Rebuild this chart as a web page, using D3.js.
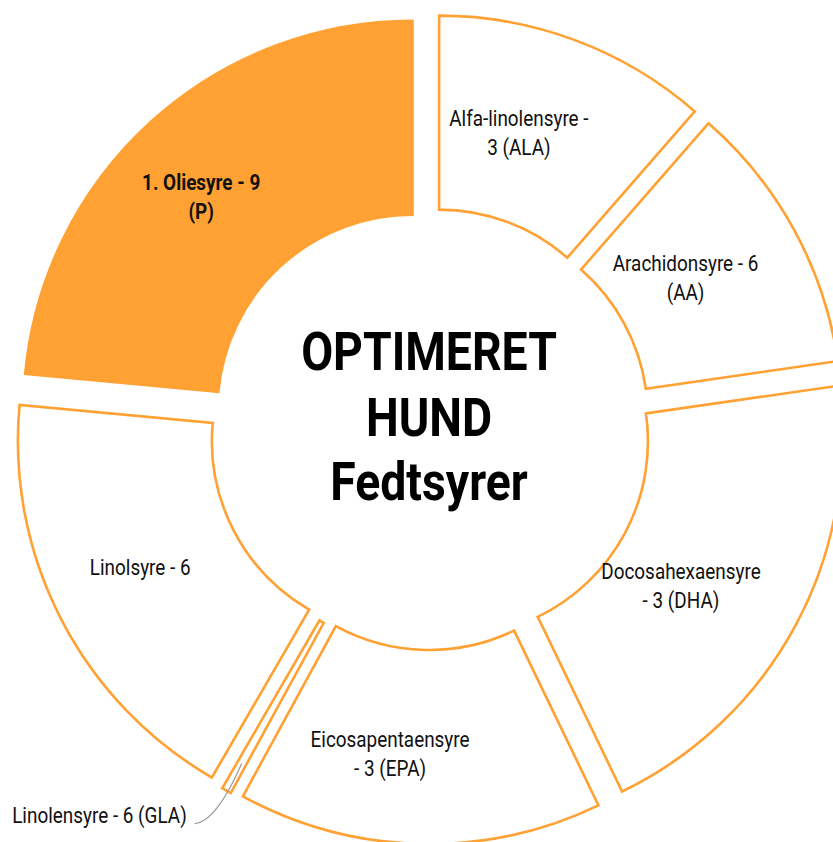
<!DOCTYPE html>
<html><head><meta charset="utf-8">
<script src="https://cdn.jsdelivr.net/npm/d3@7"></script>
<style>html,body{margin:0;padding:0;background:#fff;overflow:hidden} svg{display:block}</style>
</head><body>
<svg id="chart" width="833" height="842"></svg>
<script>
// ---- data ----
const categories = ["Alfa-linolensyre","Arachidonsyre","Docosahexaensyre","Eicosapentaensyre","Linolensyre","Linolsyre","Oliesyre"];
const values = [11.4, 11.3, 20.1, 15.1, 0.4, 18.1, 23.5];
const labelLines = [
  ["Alfa-linolensyre -","3 (ALA)"],
  ["Arachidonsyre - 6","(AA)"],
  ["Docosahexaensyre","- 3 (DHA)"],
  ["Eicosapentaensyre","- 3 (EPA)"],
  ["Linolensyre - 6 (GLA)"],
  ["Linolsyre - 6"],
  ["1. Oliesyre - 9","(P)"]
];
const highlighted = ["Oliesyre"];
const outsideLabels = ["Linolensyre"];
const titleLines = ["OPTIMERET","HUND","Fedtsyrer"];

// ---- layout ----
const W = 833, H = 842;
const cx = 430, cy = 429;
const rInner = 195, rOuter = 389, explode = 26;
const orange = "#FFA133";
const labelSize = 22, condense = 0.86;
const titleSize = 53, titleCondense = 0.875;
const font = "Roboto, 'Noto Sans', sans-serif";
// small label placement adjustments (layout only)
const labelNudge = {Docosahexaensyre:[-6,8], Eicosapentaensyre:[-10,9], Linolsyre:[13,-7], Oliesyre:[6,1]};

const data = categories.map((c,i)=>({name:c, value:values[i], lines:labelLines[i]}));
const svg = d3.select("#chart");
const pie = d3.pie().sort(null).value(d=>d.value).startAngle(0).endAngle(2*Math.PI);
const arc = d3.arc().innerRadius(rInner).outerRadius(rOuter);
const arcs = pie(data);

const polar = (a, r) => [r*Math.sin(a), -r*Math.cos(a)];

const slices = svg.append("g").selectAll("g.slice").data(arcs).join("g")
  .attr("class","slice")
  .attr("transform", d => {
    const m = (d.startAngle+d.endAngle)/2;
    const [dx,dy] = polar(m, explode);
    return `translate(${cx+dx},${cy+dy})`;
  });

slices.append("path")
  .attr("d", arc)
  .attr("fill", d => highlighted.includes(d.data.name) ? orange : "#fff")
  .attr("stroke", orange)
  .attr("stroke-width", 2.6)
  .attr("stroke-linejoin", "miter");

// inside labels
const lineH = 29;
slices.filter(d => !outsideLabels.includes(d.data.name)).each(function(d){
  const m = (d.startAngle+d.endAngle)/2;
  const [x0,y0] = polar(m, 290);
  const nud = labelNudge[d.data.name] || [0,0];
  const x = x0 - 22 + nud[0], y = y0 + nud[1];
  const n = d.data.lines.length;
  const bold = highlighted.includes(d.data.name);
  d.data.lines.forEach((t,i) => {
    const by = y + 7.8 - (n-1)*lineH/2 + i*lineH;
    d3.select(this).append("text")
      .attr("transform", `translate(${x},${by}) scale(${condense},1)`)
      .attr("text-anchor","middle")
      .attr("font-family", font)
      .attr("font-size", labelSize)
      .attr("font-weight", bold ? 700 : 400)
      .attr("fill", "#111")
      .text(t);
  });
});

// outside label with leader line
arcs.filter(d => outsideLabels.includes(d.data.name)).forEach(d => {
  const m = (d.startAngle+d.endAngle)/2;
  const [ox,oy] = polar(m, explode);
  const [sx,sy] = polar(m, rOuter*0.92);
  const start = [cx+ox+sx, cy+oy+sy];
  const end = [start[0]-47, start[1]+60];
  svg.append("path")
    .attr("d", `M${start[0]},${start[1]} Q${end[0]+21},${end[1]-1} ${end[0]},${end[1]}`)
    .attr("fill","none").attr("stroke","#9a9a9a").attr("stroke-width",1.2);
  svg.append("text")
    .attr("transform", `translate(${end[0]-8},${end[1]-0.5}) scale(${condense},1)`)
    .attr("text-anchor","end")
    .attr("font-family", font)
    .attr("font-size", labelSize)
    .attr("fill","#111")
    .text(d.data.lines[0]);
});

// center title
const titleOffsets = [-59, 7, 71];
titleLines.forEach((t,i) => {
  svg.append("text")
    .attr("transform", `translate(${cx-1},${cy+titleOffsets[i]}) scale(${titleCondense},1)`)
    .attr("text-anchor","middle")
    .attr("font-family", font)
    .attr("font-size", titleSize)
    .attr("font-weight", 700)
    .attr("fill","#000")
    .text(t);
});
</script>
</body></html>
